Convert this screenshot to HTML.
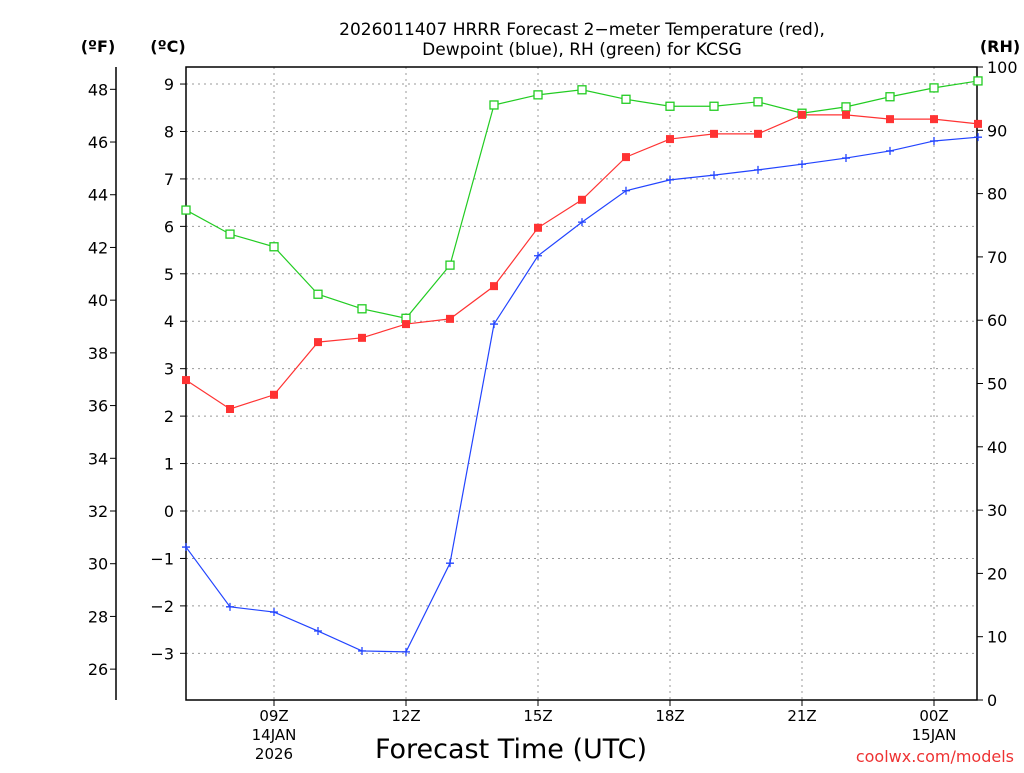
<!DOCTYPE html>
<html><head><meta charset="utf-8"><style>
body{margin:0;background:#fff;}
svg text{font-family:"DejaVu Sans","Liberation Sans",sans-serif;}
</style></head><body>
<svg id="chart" width="1024" height="768" xmlns="http://www.w3.org/2000/svg">
<text x="582" y="35" text-anchor="middle" font-size="17">2026011407 HRRR Forecast 2−meter Temperature (red),</text>
<text x="582" y="55" text-anchor="middle" font-size="17">Dewpoint (blue), RH (green) for KCSG</text>
<text x="98" y="52" text-anchor="middle" font-size="16" font-weight="bold">(ºF)</text>
<text x="168" y="52" text-anchor="middle" font-size="16" font-weight="bold">(ºC)</text>
<text x="1000" y="52" text-anchor="middle" font-size="16" font-weight="bold">(RH)</text>
<text x="511" y="758" text-anchor="middle" font-size="27">Forecast Time (UTC)</text>
<text x="1014" y="762" text-anchor="end" font-size="16" fill="#e33">coolwx.com/models</text>
<g id="grid"></g><g id="axes"></g><g id="series"></g>
</svg>
<script>
const hours=[7,8,9,10,11,12,13,14,15,16,17,18,19,20,21,22,23,24,25];
const temps=[2.76,2.15,2.45,3.56,3.65,3.94,4.05,4.74,5.97,6.56,7.46,7.84,7.95,7.95,8.35,8.35,8.26,8.26,8.16];
const dewpts=[-0.76,-2.02,-2.13,-2.53,-2.95,-2.97,-1.10,3.94,5.38,6.09,6.75,6.98,7.08,7.19,7.31,7.44,7.59,7.80,7.88];
const rh=[77.4,73.6,71.6,64.1,61.8,60.3,68.7,94.0,95.6,96.4,94.9,93.8,93.8,94.5,92.7,93.7,95.3,96.7,97.8];
const cTicks=[-3,-2,-1,0,1,2,3,4,5,6,7,8,9];
const fTicks=[26,28,30,32,34,36,38,40,42,44,46,48];
const rhTicks=[0,10,20,30,40,50,60,70,80,90,100];
const xTickHours=[9,12,15,18,21,24];
const xTickLabels=["09Z","12Z","15Z","18Z","21Z","00Z"];
const L=186,R=977,T=67,B=700;
const x=h=>L+(h-7)*44;
const yC=c=>511-c*47.44;
const yF=f=>yC((f-32)*5/9);
const yR=r=>B-r*(B-T)/100;
const NS="http://www.w3.org/2000/svg";
function mk(tag,attrs,parent,text){const e=document.createElementNS(NS,tag);for(const k in attrs)e.setAttribute(k,attrs[k]);if(text!==undefined)e.textContent=text;document.getElementById(parent).appendChild(e);return e;}
cTicks.forEach(c=>{const e=mk('line',{x1:L,x2:R,y1:yC(c),y2:yC(c),stroke:'#999','stroke-dasharray':'2,4'},'grid');

});
xTickHours.forEach(h=>{const e=mk('line',{x1:x(h),x2:x(h),y1:T,y2:B,stroke:'#999','stroke-dasharray':'2,4'},'grid');

});
let f=mk('rect',{x:L,y:T,width:R-L,height:B-T,fill:'none',stroke:'#000','stroke-width':1.5},'axes');


let fl=mk('line',{x1:116,x2:116,y1:T,y2:B,stroke:'#000','stroke-width':1.5},'axes');


cTicks.forEach(c=>{mk('line',{x1:L-6,x2:L,y1:yC(c),y2:yC(c),stroke:'#000'},'axes');
const t=mk('text',{x:L-12,y:yC(c)+6,'text-anchor':'end','font-size':16},'axes',c<0?'−'+(-c):c);

});
fTicks.forEach(v=>{mk('line',{x1:116-6,x2:116,y1:yF(v),y2:yF(v),stroke:'#000'},'axes');
const t=mk('text',{x:98,y:yF(v)+6,'text-anchor':'middle','font-size':16},'axes',v);

});
rhTicks.forEach(v=>{mk('line',{x1:R,x2:R+6,y1:yR(v),y2:yR(v),stroke:'#000'},'axes');
const t=mk('text',{x:R+10,y:yR(v)+6,'font-size':16},'axes',v);

});
xTickHours.forEach((h,i)=>{mk('line',{x1:x(h),x2:x(h),y1:B,y2:B+6,stroke:'#000'},'axes');
const t=mk('text',{x:x(h),y:721,'text-anchor':'middle','font-size':15},'axes',xTickLabels[i]);

});
[[274,740,'14JAN'],[274,759,'2026'],[934,740,'15JAN']].forEach(d=>{const t=mk('text',{x:d[0],y:d[1],'text-anchor':'middle','font-size':15},'axes',d[2]);

});
function line(vals,yf,col,name){const pts=vals.map((v,i)=>x(hours[i])+','+yf(v)).join(' ');
const p=mk('polyline',{points:pts,fill:'none',stroke:col,'stroke-width':1.2},'series');

}
line(rh,yR,'#22cc22','rh');
line(temps,yC,'#ff3333','temperature');
line(dewpts,yC,'#2244ff','dewpoint');
rh.forEach((v,i)=>{const m=mk('rect',{x:x(hours[i])-4,y:yR(v)-4,width:8,height:8,fill:'#fff',stroke:'#22cc22','stroke-width':1.3},'series');

});
temps.forEach((v,i)=>{const m=mk('rect',{x:x(hours[i])-4,y:yC(v)-4,width:8,height:8,fill:'#ff3333'},'series');

});
dewpts.forEach((v,i)=>{const cx=x(hours[i]),cy=yC(v);
const m=mk('path',{d:`M${cx-4},${cy}H${cx+4}M${cx},${cy-4}V${cy+4}`,stroke:'#2244ff','stroke-width':1.3},'series');

});
</script>
</body></html>
